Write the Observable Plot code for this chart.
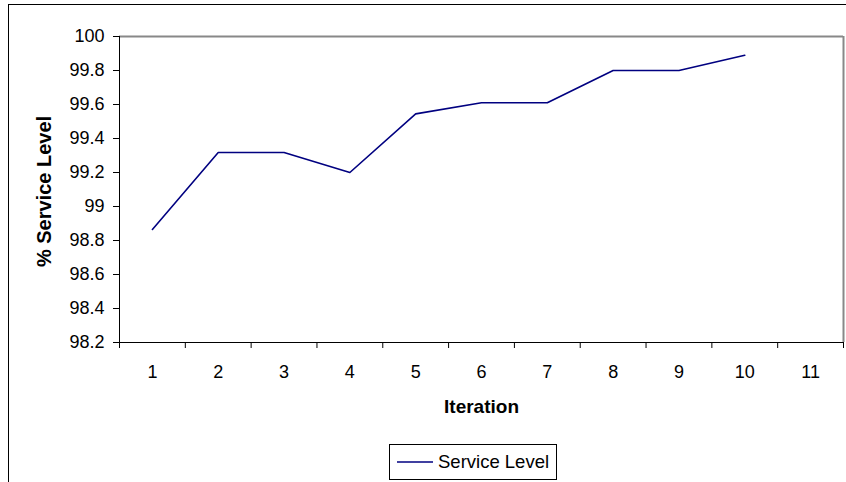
<!DOCTYPE html>
<html>
<head>
<meta charset="utf-8">
<script src="https://cdn.jsdelivr.net/npm/d3@7"></script>
<script src="https://cdn.jsdelivr.net/npm/@observablehq/plot@0.6"></script>
<style>
  html, body { margin: 0; padding: 0; background: #fff; overflow: hidden; width: 846px; height: 482px; }
  #frame { position: absolute; left: 8px; top: 4px; width: 900px; height: 600px; border: 1px solid #000; box-sizing: border-box; }
  #chart { position: absolute; left: 0; top: 0; }
  #legend { position: absolute; left: 389px; top: 444px; width: 168px; height: 36px; border: 1px solid #000; box-sizing: border-box; background: #fff;
            font-family: "Liberation Sans", Arial, sans-serif; font-size: 18.5px; color: #000; display: flex; align-items: center; }
  #legend svg { margin-left: 7px; margin-right: 5px; }
</style>
</head>
<body>
<div id="frame"></div>
<div id="chart"></div>
<div id="legend"></div>
<script>
const iterations = [1, 2, 3, 4, 5, 6, 7, 8, 9, 10];
const serviceLevel = [98.865, 99.318, 99.318, 99.2, 99.545, 99.61, 99.61, 99.8, 99.8, 99.89];
const xCategories = [1, 2, 3, 4, 5, 6, 7, 8, 9, 10, 11];
const yTicks = [98.2, 98.4, 98.6, 98.8, 99, 99.2, 99.4, 99.6, 99.8, 100];
const seriesName = "Service Level";
const xTitle = "Iteration";
const yTitle = "% Service Level";

const data = iterations.map((it, i) => ({iteration: it, level: serviceLevel[i]}));
const xMin = xCategories[0] - 0.5;
const xMax = xCategories[xCategories.length - 1] + 0.5;
const boundaries = [xMin, ...xCategories.map(c => c + 0.5)];
const yMin = yTicks[0], yMax = yTicks[yTicks.length - 1];

const font = "Liberation Sans, Arial, sans-serif";
const lineColor = "#000080";

const chart = Plot.plot({
  width: 846,
  height: 430,
  marginLeft: 119,
  marginRight: 3,
  marginTop: 36,
  marginBottom: 88,
  style: {fontFamily: font, fontSize: "18px", color: "#000", background: "transparent", overflow: "visible"},
  x: {type: "linear", domain: [xMin, xMax]},
  y: {domain: [yMin, yMax]},
  marks: [
    Plot.ruleY([yMax], {stroke: "#888", strokeWidth: 2}),
    Plot.ruleX([xMax], {stroke: "#888", strokeWidth: 2}),
    Plot.axisY({ticks: yTicks, tickFormat: d => String(d), tickSize: 6, tickPadding: 9, label: null, stroke: "#000", strokeOpacity: 1}),
    Plot.axisX({ticks: boundaries, tickFormat: () => "", tickSize: 6, label: null, stroke: "#000", strokeOpacity: 1}),
    Plot.axisX({ticks: xCategories, tickFormat: d => String(d), tickSize: 0, tickPadding: 23, label: null}),
    Plot.ruleX([xMin], {stroke: "#000", strokeWidth: 1}),
    Plot.ruleY([yMin], {stroke: "#000", strokeWidth: 1}),
    Plot.line(data, {x: "iteration", y: "level", stroke: lineColor, strokeWidth: 1.6}),
    Plot.text([xTitle], {frameAnchor: "bottom", dy: 64, lineAnchor: "middle", fontSize: 19, fontWeight: "bold", fill: "#000"}),
    Plot.text([yTitle], {frameAnchor: "left", dx: -75, dy: 2, rotate: -90, lineAnchor: "middle", textAnchor: "middle", fontSize: 20, fontWeight: "bold", fill: "#000"})
  ]
});
document.getElementById("chart").appendChild(chart);

const legend = document.getElementById("legend");
legend.innerHTML = `<svg width="36" height="10"><line x1="0" x2="36" y1="5" y2="5" stroke="${lineColor}" stroke-width="1.6"/></svg><span>${seriesName}</span>`;
</script>
</body>
</html>
